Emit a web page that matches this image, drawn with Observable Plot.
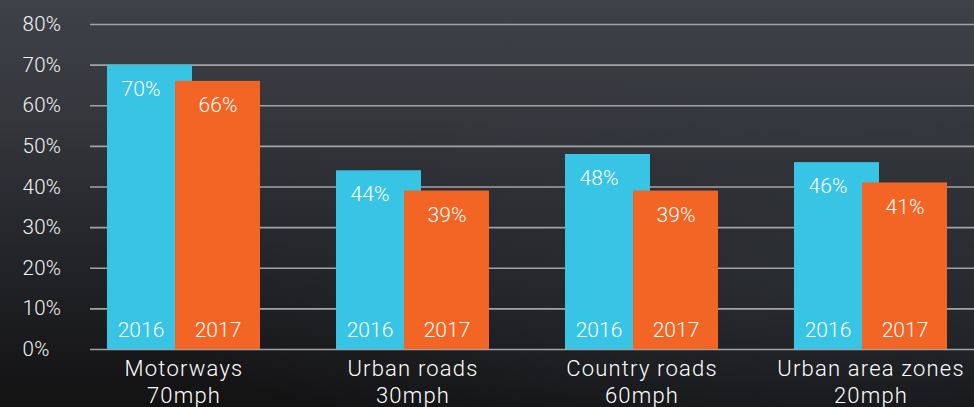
<!DOCTYPE html>
<html>
<head>
<meta charset="utf-8">
<script src="https://cdn.jsdelivr.net/npm/d3@7"></script>
<script src="https://cdn.jsdelivr.net/npm/@observablehq/plot@0.6"></script>
<style>
  html, body { margin: 0; padding: 0; width: 974px; height: 407px; overflow: hidden; }
  body {
    background:
      radial-gradient(ellipse at 85% 70%, rgba(60,66,74,0.35), rgba(0,0,0,0) 55%),
      linear-gradient(to bottom, #3f4148 0%, #34363c 30%, #25262a 60%, #121213 100%);
  }
  #chart svg { display: block; }
</style>
</head>
<body>
<div id="chart"></div>
<script>
const categories = ["Motorways", "Urban roads", "Country roads", "Urban area zones"];
const speeds = ["70mph", "30mph", "60mph", "20mph"];
const years = ["2016", "2017"];
const values2016 = [70, 44, 48, 46];
const values2017 = [66, 39, 39, 41];
const yTicks = [0, 10, 20, 30, 40, 50, 60, 70, 80];

const rows2016 = categories.map((c, i) => ({category: c, year: years[0], value: values2016[i]}));
const rows2017 = categories.map((c, i) => ({category: c, year: years[1], value: values2017[i]}));
const labelOf = new Map(categories.map((c, i) => [c, c + "\n" + speeds[i]]));

const FONT = "Roboto, 'Noto Sans', sans-serif";
const CYAN = "#37c4e5";
const ORANGE = "#f26524";

const spaced = (px) => function (index, scales, values, dims, context, next) {
  const g = next(index, scales, values, dims, context);
  if (g) g.style.letterSpacing = px;
  return g;
};

const chart = Plot.plot({
  width: 974,
  height: 407,
  marginTop: 24,
  marginBottom: 58,
  marginLeft: 90,
  marginRight: 0,
  style: {background: "transparent", fontFamily: FONT, color: "#ffffff"},
  x: {domain: categories, range: [68, 987], paddingInner: 0.33, paddingOuter: 0.165, axis: null},
  y: {domain: [0, 80], axis: null},
  marks: [
    Plot.ruleY(yTicks, {stroke: "#a3a3a6", strokeWidth: 1.6}),
    Plot.text(yTicks, {
      y: d => d, frameAnchor: "left", text: d => d + "%", textAnchor: "start",
      dx: -68, fontSize: 20.5, fontWeight: 300, fill: "#f2f2f2", render: spaced("0.3px")
    }),
    Plot.barY(rows2016, {x: "category", y: "value", fill: CYAN, insetRight: 68}),
    Plot.barY(rows2017, {x: "category", y: "value", fill: ORANGE, insetLeft: 68}),
    Plot.text(rows2016, {x: "category", y: "value", text: d => d.value + "%", dx: -43, dy: 24, fontSize: 21, fontWeight: 300, fill: "#ffffff"}),
    Plot.text(rows2017, {x: "category", y: "value", text: d => d.value + "%", dx: 34, dy: 24, fontSize: 21, fontWeight: 300, fill: "#ffffff"}),
    Plot.text(rows2016, {x: "category", y: 0, text: "year", dx: -43, dy: -19, fontSize: 21, fontWeight: 300, fill: "#ffffff"}),
    Plot.text(rows2017, {x: "category", y: 0, text: "year", dx: 34, dy: -19, fontSize: 21, fontWeight: 300, fill: "#ffffff"}),
    Plot.text(categories, {
      x: d => d, frameAnchor: "bottom", text: d => labelOf.get(d),
      lineAnchor: "top", dy: 7, lineHeight: 1.24, fontSize: 22, fontWeight: 300, fill: "#ffffff",
      render: spaced("1.2px")
    })
  ]
});
document.getElementById("chart").appendChild(chart);
</script>
</body>
</html>
